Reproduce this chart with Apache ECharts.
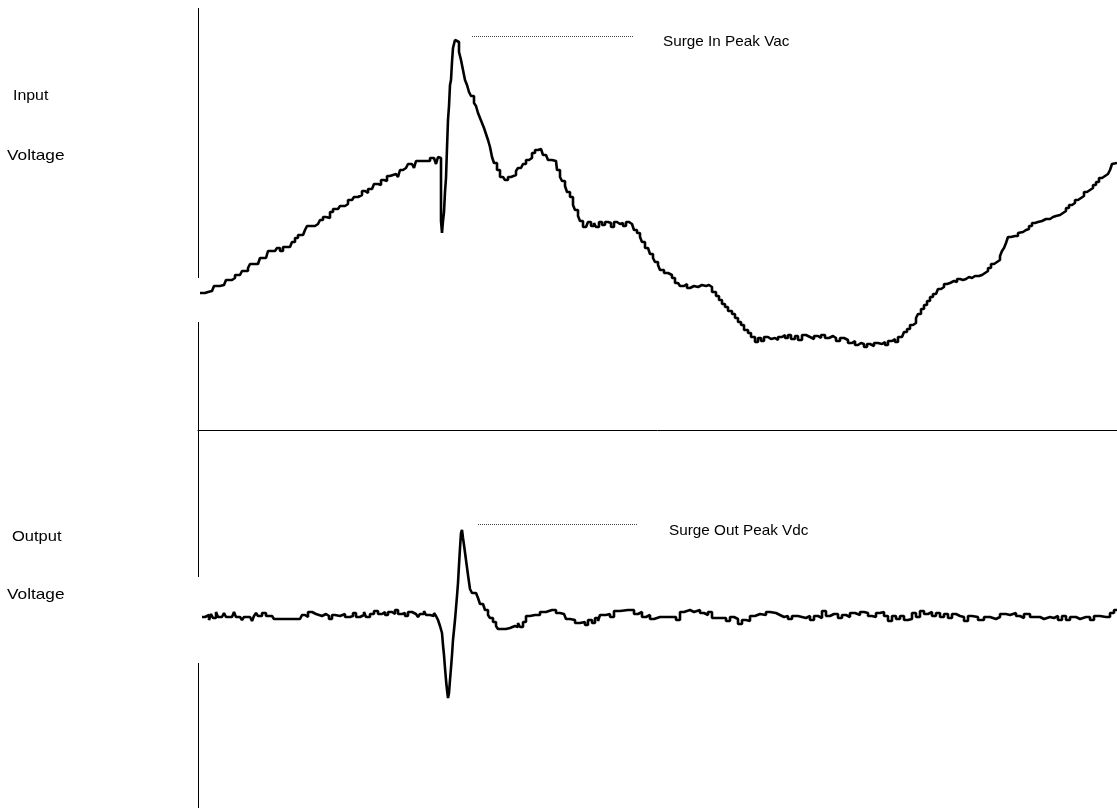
<!DOCTYPE html>
<html>
<head>
<meta charset="utf-8">
<title>Surge</title>
<script src="https://cdn.jsdelivr.net/npm/echarts@6/dist/echarts.min.js"></script>
<style>
  html, body { margin: 0; padding: 0; background: #fff; }
  #chart { width: 1117px; height: 808px; }
</style>
</head>
<body>
<div id="chart"></div>
<script>
// sample index / level, [t, v]
var inputSamples = [
  [2,137],[7,138],[10,139],[14,140],[16,144],[22,145],[26,147],[28,150],[34,152],[37,155],[42,156],[44,159],
  [50,162],[52,166],[60,168],[62,172],[68,174],[70,179],[77,179],[79,182],[82,179],[85,183],[92,185],[94,188],
  [97,192],[100,195],[105,197],[107,200],[109,204],[117,206],[120,205],[122,210],[125,213],[128,212],[132,218],
  [135,221],[140,222],[142,224],[147,226],[150,230],[154,229],[156,233],[160,235],[164,239],[167,237],[170,241],
  [174,242],[176,246],[180,245],[183,250],[186,249],[189,254],[192,252],[194,256],[198,258],[200,253],[202,260],
  [205,262],[208,262],[210,266],[214,267],[216,262],[218,269],[222,269],[226,271],[228,269],[232,272],[236,271],
  [238,266],[240,273],[242,272],[243,209],[244,197],[245,209],[246,218],[247,238],[248,252],[249,282],[250,310],
  [251,324],[252,345],[253,350],[254,368],[255,382],[257,390],[259,388],[261,378],[263,370],[265,360],[267,350],
  [269,345],[271,338],[273,334],[276,327],[278,324],[280,317],[282,312],[284,307],[286,302],[288,296],[290,290],
  [292,283],[294,273],[296,267],[299,260],[302,253],[305,252],[307,250],[310,253],[313,251],[315,255],[318,259],
  [320,262],[323,262],[325,266],[328,270],[331,272],[334,277],[337,280],[340,281],[343,280],[345,275],[348,274],
  [350,270],[354,269],[358,268],[359,260],[362,253],[364,249],[367,244],[369,238],[372,233],[375,225],[377,220],
  [380,214],[382,209],[385,203],[388,204],[390,208],[393,204],[396,207],[398,203],[401,208],[404,205],[407,208],
  [410,207],[413,203],[416,208],[419,206],[422,207],[425,204],[428,208],[431,206],[434,205],[436,200],[439,197],
  [442,193],[444,188],[447,182],[450,180],[452,176],[455,172],[457,168],[460,165],[462,160],[466,157],[470,155],
  [474,152],[477,147],[480,148],[482,144],[486,146],[489,142],[492,144],[496,143],[500,145],[504,144],[508,145],
  [511,143],[514,138],[518,134],[521,130],[524,126],[527,123],[530,119],[534,116],[537,112],[540,108],[543,105],
  [546,100],[550,97],[553,93],[557,88],[560,92],[563,89],[566,93],[570,91],[573,92],[577,90],[580,93],[584,95],
  [587,92],[590,95],[593,91],[597,94],[600,90],[604,95],[608,93],[612,91],[616,94],[620,92],[623,95],[627,92],
  [631,94],[635,92],[638,89],[642,92],[646,90],[650,87],[654,89],[657,85],[660,87],[663,86],[666,83],[669,86],
  [672,84],[676,87],[680,86],[684,88],[687,85],[690,89],[694,91],[697,88],[700,93],[704,92],[706,98],[709,101],
  [712,105],[715,107],[718,112],[720,116],[723,121],[726,125],[729,129],[732,133],[735,136],[738,138],[740,141],
  [743,143],[746,146],[749,147],[752,149],[756,148],[759,151],[762,150],[765,151],[768,153],[771,152],[774,154],
  [777,154],[781,155],[784,157],[787,159],[790,162],[793,166],[796,168],[799,170],[802,174],[804,179],[806,182],
  [808,187],[810,193],[813,194],[817,194],[820,197],[822,198],[825,200],[828,201],[831,204],[834,207],[837,208],
  [840,209],[844,211],[848,211],[852,213],[855,214],[858,215],[862,217],[865,219],[868,222],[871,225],[874,227],
  [877,230],[880,232],[883,234],[886,238],[889,240],[892,242],[895,245],[898,248],[901,252],[904,254],[907,256],
  [910,258],[912,260],[914,266],[916,267],[919,267]
];
var outputSamples = [
  [4,0],[7,-2],[9,2],[11,-3],[13,3],[15,-1],[18,5],[20,0],[24,0],[26,4],[28,0],[34,0],[36,5],[38,0],[42,0],
  [44,-3],[46,0],[52,0],[54,-4],[56,1],[58,4],[60,1],[64,4],[68,1],[74,1],[76,-2],[102,-2],[104,2],[107,0],
  [110,5],[114,3],[118,4],[120,1],[124,3],[128,1],[131,-2],[134,2],[137,1],[142,3],[147,0],[152,1],[155,4],
  [158,0],[162,2],[166,5],[168,0],[172,3],[176,6],[180,3],[184,5],[187,2],[190,5],[194,3],[197,7],[200,3],
  [204,4],[207,1],[210,5],[214,3],[218,4],[220,0],[222,3],[226,6],[228,2],[232,3],[234,1],[236,4],[238,1],
  [240,-3],[242,-9],[244,-16],[245,-28],[246,-38],[247,-51],[248,-63],[249,-73],[250,-81],[251,-76],[252,-63],
  [253,-51],[254,-38],[255,-23],[256,-13],[257,-3],[258,9],[259,21],[260,34],[261,52],[262,69],[263,84],[264,87],
  [265,79],[266,72],[268,57],[270,42],[272,28],[274,24],[278,24],[280,19],[282,13],[285,11],[287,7],[290,2],
  [292,-1],[295,-5],[298,-9],[300,-12],[304,-12],[308,-11],[312,-13],[314,-9],[317,-10],[320,-6],[322,-10],
  [325,-5],[328,1],[332,2],[337,2],[342,5],[348,7],[354,7],[358,4],[362,3],[366,4],[368,-2],[372,-3],[377,-6],
  [382,-5],[387,-8],[390,-3],[394,-6],[397,-1],[400,-4],[402,2],[408,3],[412,0],[416,6],[422,7],[430,7],[436,3],
  [440,5],[444,0],[448,2],[452,-2],[456,0],[462,0],[472,0],[478,-3],[482,5],[486,7],[492,5],[496,7],[502,4],
  [506,2],[510,5],[514,-1],[522,-1],[528,-4],[532,0],[536,-2],[540,-7],[544,-3],[548,-4],[552,1],[557,3],
  [562,2],[568,5],[572,4],[578,2],[582,0],[586,1],[590,-2],[594,1],[600,0],[604,-1],[608,1],[612,-3],[616,1],
  [620,-1],[624,6],[628,1],[632,3],[636,3],[640,-1],[644,2],[648,0],[652,4],[657,2],[662,5],[666,4],[670,1],
  [674,0],[678,4],[682,5],[686,1],[690,-4],[694,1],[698,-2],[702,1],[706,-3],[710,-2],[714,4],[718,0],[722,6],
  [726,3],[730,5],[734,1],[738,4],[742,0],[746,3],[750,-1],[754,3],[758,1],[762,0],[766,-4],[770,1],[774,0],
  [780,-3],[786,0],[792,-2],[798,0],[802,3],[808,2],[812,4],[818,1],[822,-1],[826,3],[832,0],[838,0],[842,-2],
  [846,0],[852,-1],[856,1],[860,-3],[864,1],[868,-3],[872,0],[878,-2],[882,0],[888,0],[892,-3],[896,1],[902,0],
  [908,0],[912,4],[916,7],[919,6]
];

// axis ranges
var tRange = [0, 919];
var inRange = [0, 422];
var outRange = [-191, 187];
// pieces of the left axis (broken where the trace starts)
var inAxisPieces = [[0, 108], [152, 422]];
var outAxisPieces = [[-191, -46], [40, 187]];
// peak marker: from t, to t, level
var inPeakMark = [274, 435, 394];
var outPeakMark = [280, 439, 93];

function axisLines(pieces){
  var out = [];
  for (var i = 0; i < pieces.length; i++) {
    out.push([{coord: [0, pieces[i][0]]}, {coord: [0, pieces[i][1]]}]);
  }
  return out;
}
function peakLine(m){
  return [{coord: [m[0], m[2]], lineStyle: {type: 'dotted', width: 1, color: '#444'}}, {coord: [m[1], m[2]]}];
}
function label(text, x, y, sx){
  return {type: 'text', left: x, top: y, scaleX: sx,
    style: {text: text, fill: '#000', fontFamily: 'Liberation Sans, Arial, sans-serif', fontSize: 15}};
}

var chart = echarts.init(document.getElementById('chart'));
var option = {
  animation: false,
  backgroundColor: '#fff',
  grid: [
    {left: 198, right: 0, top: 8, height: 422},
    {left: 198, right: 0, top: 430, height: 378}
  ],
  xAxis: [
    {type: 'value', gridIndex: 0, min: tRange[0], max: tRange[1],
     axisLine: {show: true, onZero: false, lineStyle: {color: '#000', width: 1}},
     axisTick: {show: false}, axisLabel: {show: false}, splitLine: {show: false}},
    {type: 'value', gridIndex: 1, min: tRange[0], max: tRange[1], show: false}
  ],
  yAxis: [
    {type: 'value', gridIndex: 0, min: inRange[0], max: inRange[1], show: false},
    {type: 'value', gridIndex: 1, min: outRange[0], max: outRange[1], show: false}
  ],
  series: [
    {
      name: 'Input Voltage', type: 'line', xAxisIndex: 0, yAxisIndex: 0,
      data: inputSamples, step: 'end', showSymbol: false, clip: false,
      lineStyle: {color: '#000', width: 2.6},
      markLine: {
        silent: true, symbol: 'none', label: {show: false},
        lineStyle: {type: 'solid', color: '#000', width: 1},
        data: axisLines(inAxisPieces).concat([peakLine(inPeakMark)])
      }
    },
    {
      name: 'Output Voltage', type: 'line', xAxisIndex: 1, yAxisIndex: 1,
      data: outputSamples, step: 'end', showSymbol: false, clip: false,
      lineStyle: {color: '#000', width: 2.6},
      markLine: {
        silent: true, symbol: 'none', label: {show: false},
        lineStyle: {type: 'solid', color: '#000', width: 1},
        data: axisLines(outAxisPieces).concat([peakLine(outPeakMark)])
      }
    }
  ],
  graphic: [
    label('Input', 13, 88, 1.06),
    label('Voltage', 7, 148, 1.15),
    label('Output', 12, 529, 1.1),
    label('Voltage', 7, 587, 1.15),
    label('Surge In Peak Vac', 663, 34, 1.02),
    label('Surge Out Peak Vdc', 669, 523, 1.02)
  ]
};
chart.setOption(option);
</script>
</body>
</html>
